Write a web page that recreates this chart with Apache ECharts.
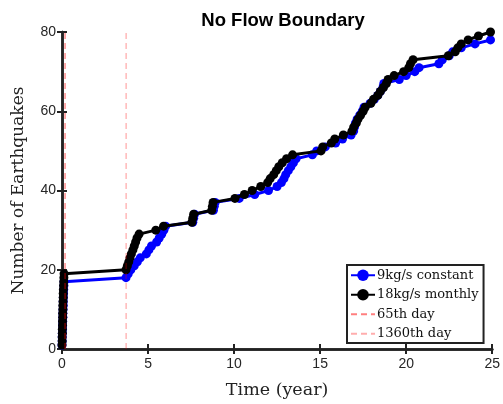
<!DOCTYPE html>
<html>
<head>
<meta charset="utf-8">
<script src="https://cdn.jsdelivr.net/npm/echarts@6/dist/echarts.min.js"></script>
<style>
  html, body { margin: 0; padding: 0; background: #fff; }
  #chart { width: 503px; height: 404px; }
</style>
</head>
<body>
<div id="chart"></div>
<script>
// Event times (years) for each cumulative earthquake count; count = index + 1
const constantTimes = [
  0.00, 0.01, 0.01, 0.02, 0.03, 0.03, 0.04, 0.05, 0.05, 0.06,
  0.07, 0.07, 0.08, 0.09, 0.10, 0.11, 0.12,
  3.72, 3.85, 4.00, 4.20, 4.38, 4.55, 4.90, 5.05, 5.20, 5.50, 5.65, 5.80, 5.92,
  6.02, 7.60, 7.65, 7.70, 8.80, 8.85, 8.90, 10.30, 11.20, 12.00,
  12.50, 12.75, 12.90, 13.00, 13.15, 13.30, 13.45, 13.60, 14.55, 14.80,
  15.30, 15.90, 16.30, 16.80, 16.95, 17.00, 17.05, 17.15, 17.30, 17.45,
  17.55, 17.90, 18.15, 18.35, 18.50, 18.65, 18.70, 19.60, 20.00, 20.50,
  20.75, 21.90, 22.10, 22.50, 22.70, 23.20, 24.00, 24.90
];
const monthlyTimes = [
  0.00, 0.01, 0.01, 0.02, 0.02, 0.03, 0.03, 0.04, 0.04, 0.05,
  0.05, 0.06, 0.07, 0.07, 0.08, 0.09, 0.10, 0.11, 0.12,
  3.72, 3.80, 3.88, 3.95, 4.03, 4.12, 4.20, 4.28, 4.36, 4.48,
  5.45, 5.90, 7.55, 7.60, 7.65, 8.70, 8.74, 8.78, 10.05, 10.60,
  11.05, 11.55, 11.95, 12.10, 12.30, 12.45, 12.60, 12.80, 13.05, 13.40,
  15.05, 15.15, 15.65, 15.85, 16.35, 16.85, 16.95, 17.10, 17.20, 17.35,
  17.50, 17.62, 17.95, 18.10, 18.35, 18.50, 18.68, 18.85, 18.95, 19.30,
  19.85, 20.15, 20.25, 20.40, 22.45, 22.85, 23.00, 23.20, 23.60, 24.20,
  24.90
];
// Reference days marked with vertical dashed lines
const markerDays = [65, 1360];
const markerNames = ['65th day', '1360th day'];
const seriesNames = ['9kg/s constant', '18kg/s monthly'];
const xTicks = { min: 0, max: 25, interval: 5 };
const yTicks = { min: 0, max: 80, interval: 20 };

function cumulative(times) {
  return times.map((t, i) => [t, i + 1]);
}
function vline(day) {
  const t = day / 365;
  return [[t, yTicks.min], [t, yTicks.max]];
}

const serif = '"DejaVu Serif", "Liberation Serif", serif';
const sans = '"Liberation Sans", Arial, sans-serif';
const tickLabel = { color: '#262626', fontFamily: sans, fontSize: 14 };
const boxLine = { show: true, lineStyle: { color: '#222', width: 2.5 } };
const inTick = { show: true, inside: true, length: 5, lineStyle: { color: '#222', width: 2 } };
const dash65 = 'rgba(255,0,0,0.5)';
const dash1360 = 'rgba(255,0,0,0.32)';

const chart = echarts.init(document.getElementById('chart'), null, { renderer: 'canvas' });
chart.setOption({
  animation: false,
  backgroundColor: '#fff',
  title: {
    text: 'No Flow Boundary',
    left: 278, top: 6, textAlign: 'center',
    textStyle: { fontFamily: sans, fontWeight: 'bold', fontSize: 18.5, color: '#000' }
  },
  grid: { left: 62, right: 9, top: 32, bottom: 52, containLabel: false },
  xAxis: [
    {
      type: 'value', min: xTicks.min, max: xTicks.max, interval: xTicks.interval,
      name: 'Time (year)', nameLocation: 'middle', nameGap: 32,
      nameTextStyle: { fontFamily: serif, fontSize: 17.5, color: '#222' },
      axisLine: boxLine, axisTick: inTick, splitLine: { show: false },
      axisLabel: Object.assign({ margin: 8 }, tickLabel)
    },
    {
      type: 'value', position: 'top', min: xTicks.min, max: xTicks.max, interval: xTicks.interval,
      axisLine: boxLine, axisTick: inTick, splitLine: { show: false }, axisLabel: { show: false }
    }
  ],
  yAxis: [
    {
      type: 'value', min: yTicks.min, max: yTicks.max, interval: yTicks.interval,
      name: 'Number of Earthquakes', nameLocation: 'middle', nameGap: 35,
      nameTextStyle: { fontFamily: serif, fontSize: 17, color: '#222' },
      axisLine: boxLine, axisTick: inTick, splitLine: { show: false },
      axisLabel: Object.assign({ margin: 6 }, tickLabel)
    },
    {
      type: 'value', position: 'right', min: yTicks.min, max: yTicks.max, interval: yTicks.interval,
      axisLine: boxLine, axisTick: inTick, splitLine: { show: false }, axisLabel: { show: false }
    }
  ],
  legend: {
    orient: 'vertical',
    left: 347, top: 265,
    backgroundColor: '#fff',
    borderColor: '#222', borderWidth: 2, borderRadius: 0,
    padding: [3, 5, 2, 3],
    itemGap: 5, itemWidth: 24, itemHeight: 14.5,
    textStyle: { fontFamily: serif, fontSize: 13, lineHeight: 14.5, color: '#111', padding: [0, 0, 0, -3] },
    data: [
      { name: seriesNames[0] },
      { name: seriesNames[1] },
      { name: markerNames[0], itemStyle: { opacity: 0 } },
      { name: markerNames[1], itemStyle: { opacity: 0 } }
    ]
  },
  series: [
    {
      name: seriesNames[0], type: 'line', data: cumulative(constantTimes),
      symbol: 'circle', symbolSize: 9, showSymbol: true,
      color: '#0000ff', lineStyle: { width: 3, color: '#0000ff' }, itemStyle: { color: '#0000ff' },
      z: 2
    },
    {
      name: seriesNames[1], type: 'line', data: cumulative(monthlyTimes),
      symbol: 'circle', symbolSize: 9, showSymbol: true,
      color: '#000', lineStyle: { width: 3, color: '#000' }, itemStyle: { color: '#000' },
      z: 3
    },
    {
      name: markerNames[0], type: 'line', data: vline(markerDays[0]), symbol: 'none',
      color: dash65,
      lineStyle: { width: 1.3, type: [6, 4], color: dash65 },
      z: 4, silent: true
    },
    {
      name: markerNames[1], type: 'line', data: vline(markerDays[1]), symbol: 'none',
      color: dash1360,
      lineStyle: { width: 1.3, type: [6, 4], color: dash1360 },
      z: 4, silent: true
    }
  ]
});
</script>
</body>
</html>
